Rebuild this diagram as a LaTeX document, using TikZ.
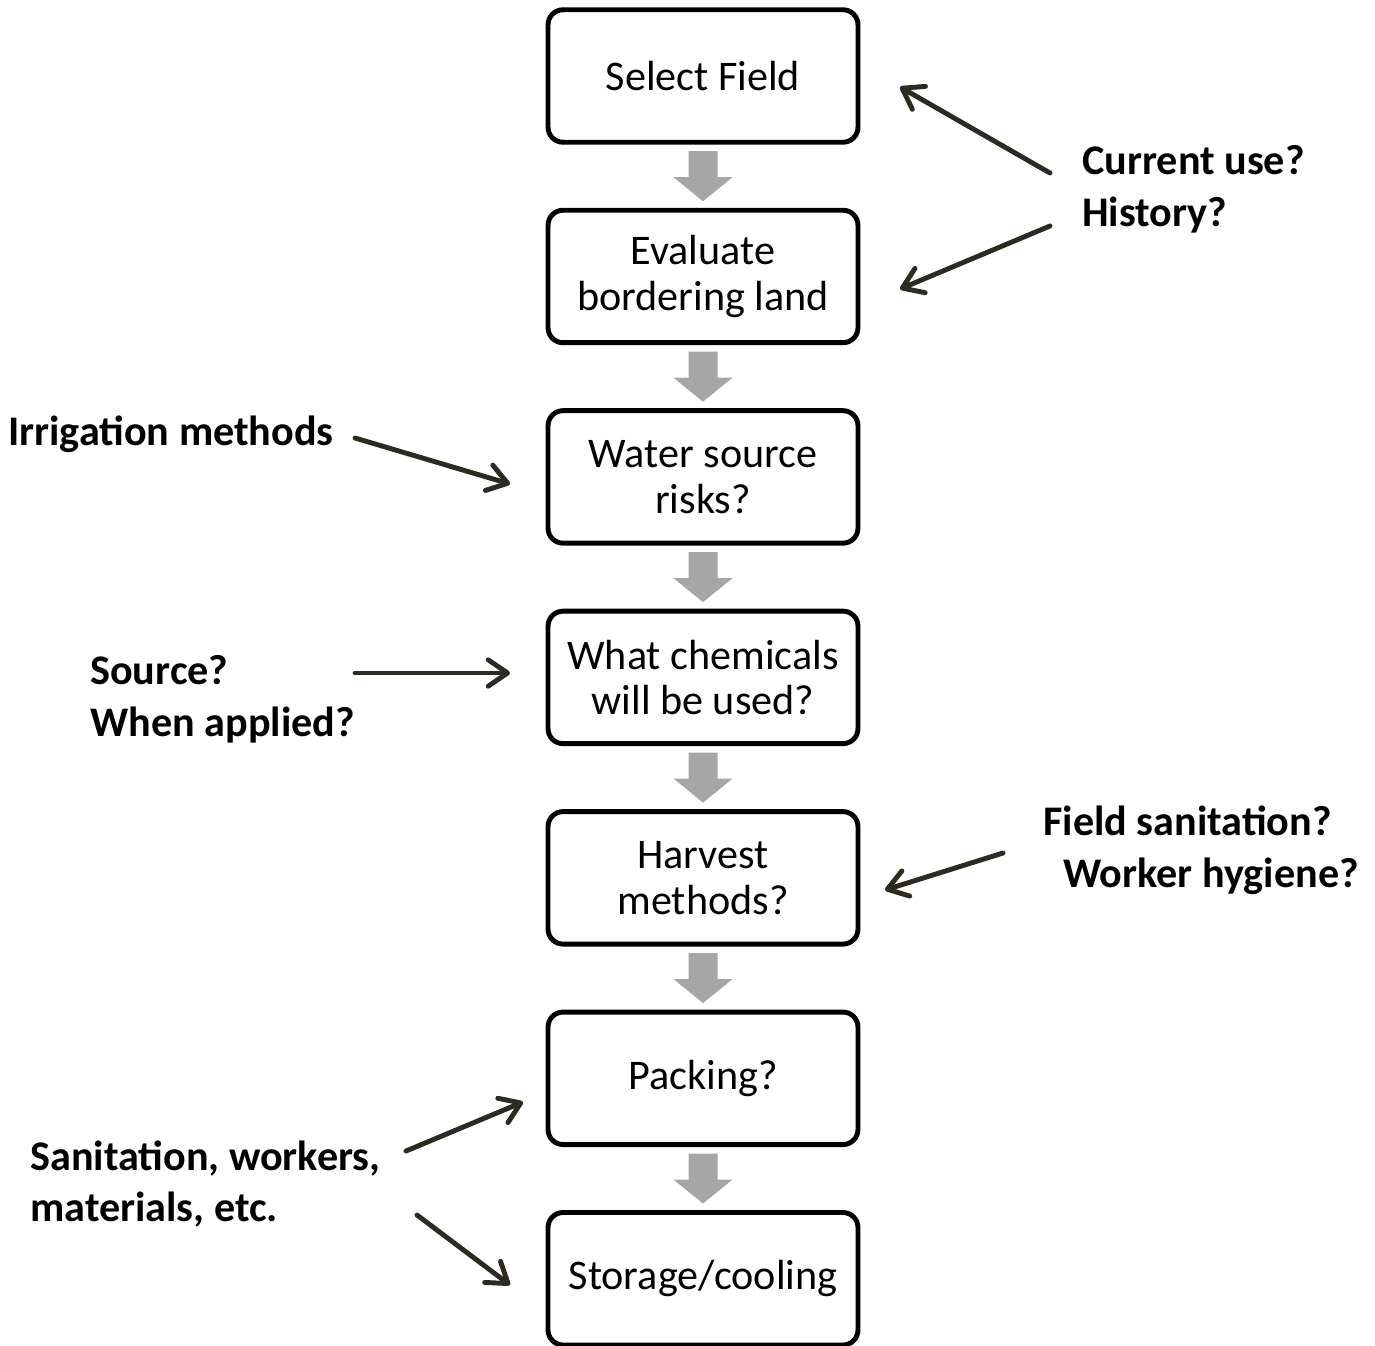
\documentclass[tikz,border=0pt]{standalone}
\usepackage{fontspec}
\setmainfont{Carlito}
\usetikzlibrary{positioning,arrows.meta,calc}
\definecolor{ink}{HTML}{2D2A22}
\definecolor{flowgray}{HTML}{A6A6A6}

\begin{document}
\begin{tikzpicture}[
    x=0.02cm, y=-0.02cm,
    node distance=1.36cm,
    step box/.style={draw, line width=2.8pt, outer sep=0pt, rounded corners=0.3cm, align=center,
        minimum width=6.2cm, minimum height=2.65cm, font=\fontsize{24}{26}\selectfont},
    note/.style={anchor=west, inner sep=0pt, align=left, font=\fontsize{24}{29.5}\selectfont\bfseries},
    flowarrow/.style={fill=flowgray},
    pointer/.style={-{Straight Barb[length=11pt, width=15pt, round]}, line width=2.8pt, color=ink, line cap=round}
]
\useasboundingbox (0,0) rectangle (1375,1345);

\node[step box] (select) at (703,76) {Select Field};
\node[step box, below=of select] (evaluate) {Evaluate\\bordering land};
\node[step box, below=of evaluate] (water) {Water source\\risks?};
\node[step box, below=of water] (chemicals) {What chemicals\\will be used?};
\node[step box, below=of chemicals] (harvest) {Harvest\\methods?};
\node[step box, below=of harvest] (packing) {Packing?};
\node[step box, below=of packing] (storage) {Storage/cooling};

\foreach \a/\b in {select/evaluate, evaluate/water, water/chemicals,
                   chemicals/harvest, harvest/packing, packing/storage}
  \fill[flowarrow] ($(\a.south)!0.5!(\b.north)$)
    +(-14.5,-25) -- +(14.5,-25) -- +(14.5,1) -- +(29.5,1) -- +(0,25)
    -- +(-29.5,1) -- +(-14.5,1) -- cycle;

\node[note] (history) at (1082,189) {Current use?\\History?};
\node[note] (irrigation) at (8,434) {Irrigation methods};
\node[note] (source) at (90,699.5) {Source?\\When applied?};
\node[note] (hygiene) at (1043,850) {Field sanitation?\\\hspace{0.4cm}Worker hygiene?};
\node[note] (materials) at (30,1184) {Sanitation, workers,\\materials, etc.};

\coordinate (history a) at (1050,173);
\coordinate (history b) at (1050,226);
\coordinate (select in) at (900,87);
\coordinate (evaluate in) at (900,289);
\coordinate (irrigation out) at (355,438);
\coordinate (water in) at (510,484);
\coordinate (source out) at (355,673);
\coordinate (chemicals in) at (510,673);
\coordinate (hygiene out) at (1003,853);
\coordinate (harvest in) at (885,890);
\coordinate (materials a) at (406,1151);
\coordinate (packing in) at (523,1102);
\coordinate (materials b) at (417,1215);
\coordinate (storage in) at (510,1285);

\draw[pointer] (history a) -- (select in);
\draw[pointer] (history b) -- (evaluate in);
\draw[pointer] (irrigation out) -- (water in);
\draw[pointer] (source out) -- (chemicals in);
\draw[pointer] (hygiene out) -- (harvest in);
\draw[pointer] (materials a) -- (packing in);
\draw[pointer] (materials b) -- (storage in);
\end{tikzpicture}
\end{document}
